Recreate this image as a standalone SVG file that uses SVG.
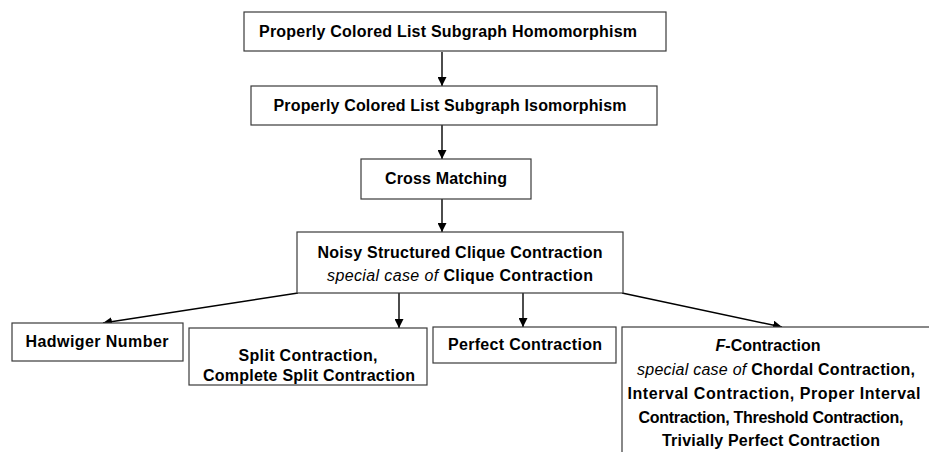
<svg xmlns="http://www.w3.org/2000/svg" width="929" height="452" viewBox="0 0 929 452">
<style>
.box{fill:#fff;stroke:#3a3a3a;stroke-width:1.2}
.t{font-family:"Liberation Sans",Arial,sans-serif;font-size:16px;font-weight:bold;fill:#000;text-anchor:middle}
.i{font-style:italic;font-weight:normal}
.c{stroke:#000;stroke-width:1.4;fill:none;marker-end:url(#ah)}
</style>
<defs>
<marker id="ah" viewBox="0 0 10 10" refX="10" refY="5" markerWidth="9" markerHeight="9" markerUnits="userSpaceOnUse" orient="auto">
<path d="M0,0 L10,5 L0,10 z" fill="#000"/>
</marker>
</defs>
<rect width="929" height="452" fill="#fff"/>
<g id="connectors">
<line class="c" x1="442" y1="52" x2="442" y2="86"/>
<line class="c" x1="442" y1="125" x2="442" y2="159"/>
<line class="c" x1="442" y1="199" x2="442" y2="232"/>
<line class="c" x1="298" y1="293" x2="103" y2="323"/>
<line class="c" x1="399" y1="293" x2="399" y2="328"/>
<line class="c" x1="523" y1="293" x2="523" y2="327"/>
<line class="c" x1="622" y1="293" x2="782" y2="327"/>
</g>
<g id="homomorphism">
<rect class="box" x="244" y="12" width="422" height="39"/>
<text class="t" x="448" y="37" textLength="378">Properly Colored List Subgraph Homomorphism</text>
</g>
<g id="isomorphism">
<rect class="box" x="251" y="86" width="406" height="39"/>
<text class="t" x="450" y="111" textLength="353">Properly Colored List Subgraph Isomorphism</text>
</g>
<g id="cross">
<rect class="box" x="361" y="159" width="170" height="40"/>
<text class="t" x="446" y="184" textLength="122">Cross Matching</text>
</g>
<g id="noisy">
<rect class="box" x="297" y="232" width="326" height="61"/>
<text class="t" x="460" y="258" textLength="285">Noisy Structured Clique Contraction</text>
<text class="t" x="460" y="281" textLength="266"><tspan class="i">special case of </tspan>Clique Contraction</text>
</g>
<g id="hadwiger">
<rect class="box" x="12" y="323" width="171" height="38"/>
<text class="t" x="97" y="347" textLength="143">Hadwiger Number</text>
</g>
<g id="split">
<rect class="box" x="189" y="328" width="238" height="57"/>
<text class="t" x="308" y="361" textLength="139">Split Contraction,</text>
<text class="t" x="309" y="381" textLength="212">Complete Split Contraction</text>
</g>
<g id="perfect">
<rect class="box" x="433" y="327" width="183" height="36"/>
<text class="t" x="525" y="350" textLength="154">Perfect Contraction</text>
</g>
<g id="fcontraction">
<rect class="box" x="622" y="327" width="400" height="200"/>
<text class="t" x="768" y="351"><tspan font-style="italic">F</tspan>-Contraction</text>
<text class="t" x="776" y="375" textLength="278"><tspan class="i">special case of </tspan>Chordal Contraction,</text>
<text class="t" x="774" y="399" textLength="293">Interval Contraction, Proper Interval</text>
<text class="t" x="771" y="423" textLength="265">Contraction, Threshold Contraction,</text>
<text class="t" x="771" y="446" textLength="218">Trivially Perfect Contraction</text>
</g>
</svg>
